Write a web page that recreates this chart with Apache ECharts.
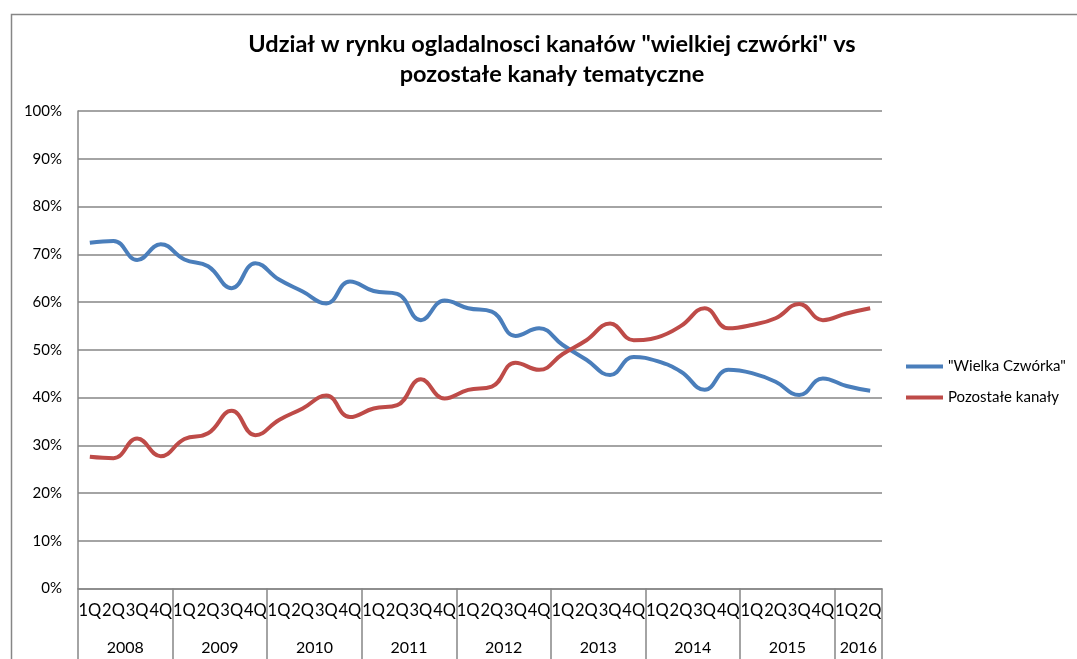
<!DOCTYPE html>
<html>
<head>
<meta charset="utf-8">
<script src="https://cdn.jsdelivr.net/npm/echarts@6/dist/echarts.min.js"></script>
<style>
html,body{margin:0;padding:0;background:#fff;}
#chart{width:1077px;height:659px;}
</style>
</head>
<body>
<div id="chart"></div>
<script>
var quarters = ['1Q','2Q','3Q','4Q','1Q','2Q','3Q','4Q','1Q','2Q','3Q','4Q','1Q','2Q','3Q','4Q','1Q','2Q','3Q','4Q','1Q','2Q','3Q','4Q','1Q','2Q','3Q','4Q','1Q','2Q','3Q','4Q','1Q','2Q'];
var years = ['2008','2009','2010','2011','2012','2013','2014','2015','2016'];
var quartersPerYear = [4,4,4,4,4,4,4,4,2];
var yTicks = [0,10,20,30,40,50,60,70,80,90,100];
var wielkaCzworka = [72.4,72.8,68.8,72.1,68.9,67.5,62.9,68.1,64.7,62.2,59.7,64.3,62.3,61.7,56.2,60.3,58.7,58.0,52.9,54.5,51.0,47.9,44.7,48.5,47.6,45.4,41.6,45.8,45.1,43.3,40.5,44.0,42.4,41.4];
var pozostale = [27.6,27.3,31.4,27.7,31.3,32.5,37.2,32.1,35.3,37.7,40.4,35.9,37.7,38.4,43.8,39.8,41.6,42.3,47.3,45.8,49.1,52.0,55.5,52.0,52.6,55.0,58.7,54.5,55.2,56.6,59.6,56.2,57.6,58.7];

// year group boundaries and centers (in category units)
var bounds = [0], centers = [], acc = 0;
quartersPerYear.forEach(function(n){ centers.push(acc + n/2); acc += n; bounds.push(acc); });

var chart = echarts.init(document.getElementById('chart'));
var gray = '#868686';
var font = 'Lato, "Liberation Sans", sans-serif';
chart.setOption({
  animation: false,
  backgroundColor: '#fff',
  textStyle: {fontFamily: font},
  title: {
    text: 'Udział w rynku ogladalnosci kanałów "wielkiej czwórki" vs\npozostałe kanały tematyczne',
    left: 547, top: 24, textAlign: 'center',
    textStyle: {fontFamily: font, fontSize: 23.5, fontWeight: 'bold', color: '#000', lineHeight: 30}
  },
  graphic: [{
    type: 'rect', left: 9, top: 12, silent: true,
    shape: {width: 1200, height: 800},
    style: {fill: 'none', stroke: gray, lineWidth: 1.5}
  }],
  legend: {
    orient: 'vertical', left: 901, top: 354,
    itemWidth: 37, itemHeight: 4, itemGap: 16,
    icon: 'rect',
    textStyle: {fontFamily: font, fontSize: 15, color: '#000'},
    data: ['"Wielka Czwórka"', 'Pozostałe kanały']
  },
  grid: {left: 78, right: 195, top: 111, bottom: 70.5, containLabel: false},
  xAxis: [{
    type: 'category', data: quarters, boundaryGap: true, position: 'bottom',
    axisLine: {show: true, lineStyle: {color: gray, width: 1.5}},
    axisTick: {show: false},
    axisLabel: {interval: 0, margin: 14, fontSize: 16.5, color: '#000', fontFamily: font},
    splitLine: {show: false}
  }, {
    type: 'value', min: 0, max: quarters.length, position: 'bottom',
    axisLine: {show: false},
    splitLine: {show: false},
    axisTick: {show: true, length: 80, customValues: bounds, lineStyle: {color: gray, width: 1.5}},
    axisLabel: {
      customValues: centers, margin: 51, fontSize: 16, color: '#000', fontFamily: font,
      formatter: function(v){ var i = centers.indexOf(v); return i >= 0 ? years[i] : ''; }
    }
  }],
  yAxis: {
    type: 'value', min: 0, max: 100, interval: 10,
    axisLine: {show: true, lineStyle: {color: gray, width: 1.5}},
    axisTick: {show: false},
    axisLabel: {formatter: '{value}%', margin: 16, fontSize: 15, color: '#000', fontFamily: font},
    splitLine: {show: true, lineStyle: {color: gray, width: 1.5}}
  },
  series: [{
    name: '"Wielka Czwórka"', type: 'line', data: wielkaCzworka, smooth: 0.45,
    symbol: 'none', xAxisIndex: 0,
    itemStyle: {color: '#4a7ebb'},
    lineStyle: {color: '#4a7ebb', width: 4}
  }, {
    name: 'Pozostałe kanały', type: 'line', data: pozostale, smooth: 0.45,
    symbol: 'none', xAxisIndex: 0,
    itemStyle: {color: '#be4b48'},
    lineStyle: {color: '#be4b48', width: 4}
  }]
});
</script>
</body>
</html>
